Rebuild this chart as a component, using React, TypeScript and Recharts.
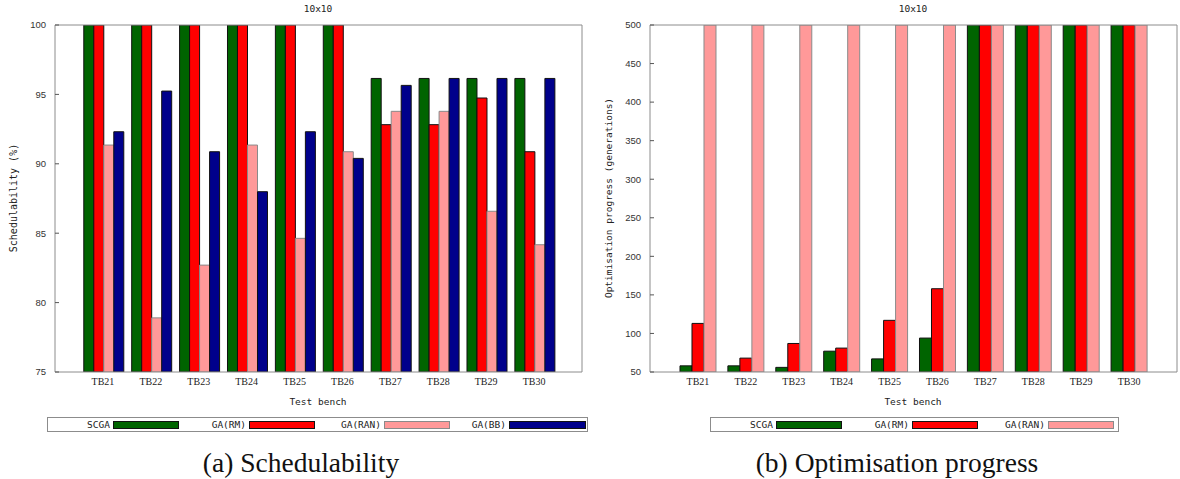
import { BarChart, Bar, XAxis, YAxis } from 'recharts';

const benches = ['TB21', 'TB22', 'TB23', 'TB24', 'TB25', 'TB26', 'TB27', 'TB28', 'TB29', 'TB30'];

// (a) schedulability, %
const scgaSched = [100, 100, 100, 100, 100, 100, 96.15, 96.15, 96.15, 96.15];
const gaRmSched = [100, 100, 100, 100, 100, 100, 92.82, 92.82, 94.74, 90.87];
const gaRanSched = [91.35, 78.9, 82.7, 91.35, 84.63, 90.87, 93.78, 93.78, 86.58, 84.17];
const gaBbSched = [92.31, 95.24, 90.87, 87.99, 92.31, 90.39, 95.65, 96.15, 96.15, 96.15];
const schedTicks = [75, 80, 85, 90, 95, 100];

// (b) optimisation progress, generations
const scgaGen = [58, 58, 56, 77, 67, 94, 500, 500, 500, 500];
const gaRmGen = [113, 68, 87, 81, 117, 158, 500, 500, 500, 500];
const gaRanGen = [500, 500, 500, 500, 500, 500, 500, 500, 500, 500];
const genTicks = [50, 100, 150, 200, 250, 300, 350, 400, 450, 500];

const seriesNames = ['SCGA', 'GA(RM)', 'GA(RAN)', 'GA(BB)'];
const seriesKeys = ['scga', 'gaRm', 'gaRan', 'gaBb'];
const seriesFill = ['#006400', '#ff0000', '#ff9999', '#00008b'];
const seriesStroke = ['#111', '#111', '#8a8a8a', '#111'];

const schedData = benches.map((name, i) => ({
  name,
  scga: scgaSched[i],
  gaRm: gaRmSched[i],
  gaRan: gaRanSched[i],
  gaBb: gaBbSched[i],
}));

const genData = benches.map((name, i) => ({
  name,
  scga: scgaGen[i],
  gaRm: gaRmGen[i],
  gaRan: gaRanGen[i],
}));

const BORDER = '#8c8c8c';
const MONO = '"DejaVu Sans Mono", monospace';

const centred = (x: number, y: number, extra: React.CSSProperties = {}): React.CSSProperties => ({
  position: 'absolute',
  left: x,
  top: y,
  transform: 'translate(-50%, -50%)',
  whiteSpace: 'nowrap',
  fontFamily: MONO,
  fontSize: 9.5,
  color: '#222',
  ...extra,
});

// key box like gnuplot's: label right-aligned, then a sample box
function Legend({ left, width, starts, lastWide }: { left: number; width: number; starts: number[]; lastWide?: boolean }) {
  return (
    <div
      style={{
        position: 'absolute',
        left,
        top: 417,
        width,
        height: 13,
        border: `1px solid ${BORDER}`,
        background: '#fff',
      }}
    >
      {starts.map((s, i) => {
        const w = lastWide && i === starts.length - 1 ? width - 3 - s : 64;
        return (
          <div key={seriesNames[i]}>
            <span
              style={{
                position: 'absolute',
                right: width - (s - 3),
                top: 0,
                lineHeight: '13px',
                fontFamily: MONO,
                fontSize: 9.5,
                color: '#222',
                whiteSpace: 'nowrap',
              }}
            >
              {seriesNames[i]}
            </span>
            <div
              style={{
                position: 'absolute',
                left: s,
                top: 3,
                width: w,
                height: 6,
                background: seriesFill[i],
                border: `1px solid ${seriesStroke[i]}`,
              }}
            />
          </div>
        );
      })}
    </div>
  );
}

function Panel({
  data,
  count,
  domain,
  ticks,
  axisWidth,
  marginRight,
  gap,
}: {
  data: Record<string, string | number>[];
  count: number;
  domain: [number, number];
  ticks: number[];
  axisWidth: number;
  marginRight: number;
  gap: string;
}) {
  return (
    <BarChart
      width={590}
      height={479}
      data={data}
      margin={{ top: 24, right: marginRight, left: 0, bottom: 87 }}
      barCategoryGap={gap}
      barGap={0}
    >
      <XAxis
        dataKey="name"
        padding={{ left: 24, right: 24 }}
        height={20}
        tickLine={false}
        tickMargin={0}
        axisLine={{ stroke: BORDER }}
        tick={{ fontFamily: '"Liberation Serif", serif', fontSize: 10, fill: '#222' }}
        interval={0}
      />
      <XAxis
        xAxisId="top"
        orientation="top"
        dataKey="name"
        padding={{ left: 24, right: 24 }}
        height={1}
        tick={false}
        tickLine={false}
        axisLine={{ stroke: BORDER }}
      />
      <YAxis
        type="number"
        domain={domain}
        ticks={ticks}
        allowDataOverflow
        width={axisWidth}
        tickSize={-4}
        tickMargin={13}
        axisLine={{ stroke: BORDER }}
        tickLine={{ stroke: '#555' }}
        tick={{ fontFamily: '"Liberation Sans", sans-serif', fontSize: 9.5, fill: '#333' }}
      />
      <YAxis
        yAxisId="r"
        orientation="right"
        type="number"
        domain={domain}
        ticks={ticks}
        allowDataOverflow
        width={1}
        tickSize={-4}
        tick={false}
        axisLine={{ stroke: BORDER }}
        tickLine={{ stroke: '#555' }}
      />
      {seriesKeys.slice(0, count).map((k, i) => (
        <Bar
          key={k}
          dataKey={k}
          name={seriesNames[i]}
          fill={seriesFill[i]}
          stroke={seriesStroke[i]}
          strokeWidth={1}
          isAnimationActive={false}
        />
      ))}
    </BarChart>
  );
}

export default function App() {
  return (
    <div
      style={{
        position: 'absolute',
        left: 0,
        top: 0,
        width: 1180,
        height: 479,
        background: '#fff',
        overflow: 'hidden',
      }}
    >
      <div style={{ position: 'absolute', left: 0, top: 0 }}>
        <Panel
          data={schedData}
          count={4}
          domain={[75, 100]}
          ticks={schedTicks}
          axisWidth={55}
          marginRight={7}
          gap="10%"
        />
      </div>
      <div style={{ position: 'absolute', left: 590, top: 0 }}>
        <Panel
          data={genData}
          count={3}
          domain={[50, 500]}
          ticks={genTicks}
          axisWidth={60}
          marginRight={2}
          gap="12.5%"
        />
      </div>

      <div style={centred(318, 8)}>10x10</div>
      <div style={centred(913, 8)}>10x10</div>

      <div style={centred(13, 198, { fontSize: 10, transform: 'translate(-50%, -50%) rotate(-90deg)' })}>
        Schedulability (%)
      </div>
      <div style={centred(608, 198, { transform: 'translate(-50%, -50%) rotate(-90deg)' })}>
        Optimisation progress (generations)
      </div>

      <div style={centred(318, 401)}>Test bench</div>
      <div style={centred(913, 401)}>Test bench</div>

      <Legend left={47} width={539} starts={[65, 201, 336, 461]} lastWide />
      <Legend left={710} width={407} starts={[65, 201, 337]} />

      <div style={centred(301, 463, { fontFamily: '"Liberation Serif", serif', fontSize: 27.5, color: '#111' })}>
        (a) Schedulability
      </div>
      <div style={centred(897, 463, { fontFamily: '"Liberation Serif", serif', fontSize: 27.5, color: '#111' })}>
        (b) Optimisation progress
      </div>
    </div>
  );
}
